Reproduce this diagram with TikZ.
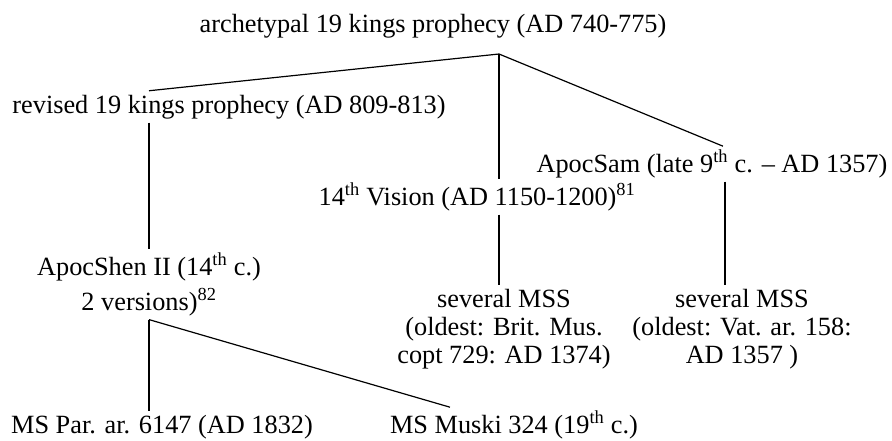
\documentclass[tikz,border=0pt]{standalone}
\usepackage{fontspec}
\setmainfont{Liberation Serif}
\begin{document}
\begin{tikzpicture}[x=1pt,y=-1pt,line width=1.2pt,
  txt/.style={inner sep=0pt,outer sep=4pt,anchor=base,align=center,
    font=\fontsize{26.3}{28}\selectfont}]
\useasboundingbox (0,0) rectangle (892,440);
% the texts
\node[txt] (arch) at (433,32) {archetypal 19 kings prophecy (AD 740-775)};
\node[txt] (rev) at (229,113) {revised 19 kings prophecy (AD 809-813)};
\node[txt] (sam) at (712,172) {ApocSam (late 9\textsuperscript{th} c. -- AD 1357)};
\node[txt] (vis) at (477,205) {14\textsuperscript{th} Vision (AD 1150-1200)\textsuperscript{81}};
\node[txt] (shen) at (149,310) {ApocShen II (14\textsuperscript{th} c.)\\[7pt]
  2 versions)\textsuperscript{82}};
\node[txt] (mssa) at (504,363) {several MSS\\(oldest: Brit. Mus.\\copt 729: AD 1374)};
\node[txt] (mssb) at (742,363) {several MSS\\(oldest: Vat. ar. 158:\\AD 1357 )};
\node[txt] (par) at (162,433) {MS Par. ar. 6147 (AD 1832)};
\node[txt] (mus) at (514,433) {MS Muski 324 (19\textsuperscript{th} c.)};
% the lines
\coordinate (root) at (499,54);
\draw (root) -- ([xshift=-80pt]rev.north);
\draw (root) -- (sam.north -| 723,0);
\draw (root) -- (vis.north -| root);
\draw (vis.south -| root) -- (mssa.north -| root);
\draw (rev.south -| shen) -- (shen.north);
\draw (sam.south -| 725,0) -- (mssb.north -| 725,0);
\draw (shen.south) -- (shen.south |- par.north);
\draw (shen.south) -- ([xshift=-64pt]mus.north);
\end{tikzpicture}
\end{document}
